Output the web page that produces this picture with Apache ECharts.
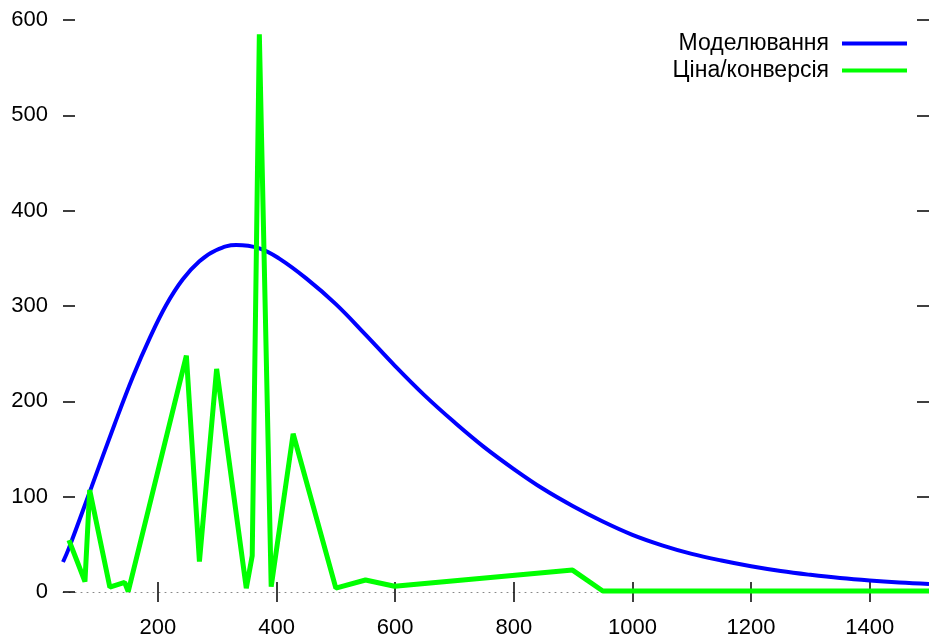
<!DOCTYPE html>
<html>
<head>
<meta charset="utf-8">
<script src="https://cdn.jsdelivr.net/npm/echarts@6/dist/echarts.min.js"></script>
<style>
html, body { margin: 0; padding: 0; background: #fff; }
#chartDiv { width: 929px; height: 642px; }
</style>
</head>
<body>
<div id="chartDiv"></div>
<script>
var seriesNames = ['Моделювання', 'Ціна/конверсія'];

// model curve
var modelX = [40, 50, 88, 127, 158, 186, 214, 242, 270, 298, 332, 371, 404, 450, 500, 550, 600, 650,
    700, 750, 800, 850, 900, 950, 1000, 1050, 1100, 1150, 1200, 1250, 1300, 1350, 1400, 1450, 1500];
var modelY = [31.5, 46, 110, 176, 226, 266, 301, 328, 347, 358.5, 364, 360.5, 350, 329, 302, 270, 237, 206,
    178, 152, 129, 108, 90, 74, 60, 49, 40, 33, 27, 22, 18, 14.6, 12, 10, 8.5];

// price / conversion
var priceX = [50, 77, 85, 119, 144, 150, 248, 270, 299, 349, 359, 371, 391, 428, 500, 550, 599, 899, 950, 1500];
var priceY = [54.5, 11, 107, 5, 10, 0.5, 248, 32, 234, 4, 38, 585, 5.6, 166, 4, 12.6, 6, 23, 1, 1];

var xTicks = [200, 400, 600, 800, 1000, 1200, 1400];

function pairs(xs, ys) {
    var out = [];
    for (var i = 0; i < xs.length; i++) {
        out.push([xs[i], ys[i]]);
    }
    return out;
}

function plain(v) {
    return String(v);
}

var myChart = echarts.init(document.getElementById('chartDiv'));
var font = 'Liberation Sans, Arial, sans-serif';

var option = {
    animation: false,
    backgroundColor: '#fff',
    grid: {left: 63, top: 20, width: 870, height: 572},
    legend: {
        orient: 'vertical',
        right: 17,
        top: 27,
        align: 'right',
        icon: 'rect',
        itemWidth: 65,
        itemHeight: 4,
        itemGap: 4,
        textStyle: {fontSize: 23, color: '#000', fontFamily: font, padding: [0, 8, 0, 0]},
        data: seriesNames
    },
    xAxis: [{
        type: 'value',
        min: 40,
        max: 1500,
        position: 'bottom',
        axisLine: {show: true, lineStyle: {color: '#888', width: 1, type: [1, 5]}},
        axisTick: {show: true, inside: false, length: 10, customValues: xTicks,
            lineStyle: {color: '#000', width: 1.5}},
        axisLabel: {customValues: xTicks, fontSize: 22, color: '#000', fontFamily: font,
            margin: 25, formatter: plain},
        splitLine: {show: false}
    }, {
        type: 'value',
        min: 40,
        max: 1500,
        position: 'bottom',
        axisLine: {show: false},
        axisTick: {show: true, inside: true, length: 10, customValues: xTicks,
            lineStyle: {color: '#000', width: 1.5}},
        axisLabel: {show: false},
        splitLine: {show: false}
    }],
    yAxis: [{
        type: 'value',
        min: 0,
        max: 600,
        interval: 100,
        position: 'left',
        axisLine: {show: false},
        axisTick: {show: true, inside: true, length: 12, lineStyle: {color: '#000', width: 1.5}},
        axisLabel: {fontSize: 22, color: '#000', fontFamily: font, margin: 15, formatter: plain},
        splitLine: {show: false}
    }, {
        type: 'value',
        min: 0,
        max: 600,
        interval: 100,
        position: 'right',
        axisLine: {show: false},
        axisTick: {show: true, inside: true, length: 12, lineStyle: {color: '#000', width: 1.5}},
        axisLabel: {show: false},
        splitLine: {show: false}
    }],
    series: [{
        name: seriesNames[0],
        type: 'line',
        smooth: 0.4,
        symbol: 'none',
        color: '#0000ff',
        lineStyle: {width: 4, color: '#0000ff'},
        data: pairs(modelX, modelY)
    }, {
        name: seriesNames[1],
        type: 'line',
        symbol: 'none',
        color: '#00ff00',
        lineStyle: {width: 5, color: '#00ff00'},
        data: pairs(priceX, priceY)
    }]
};
myChart.setOption(option);
window.onresize = myChart.resize;
</script>
</body>
</html>
